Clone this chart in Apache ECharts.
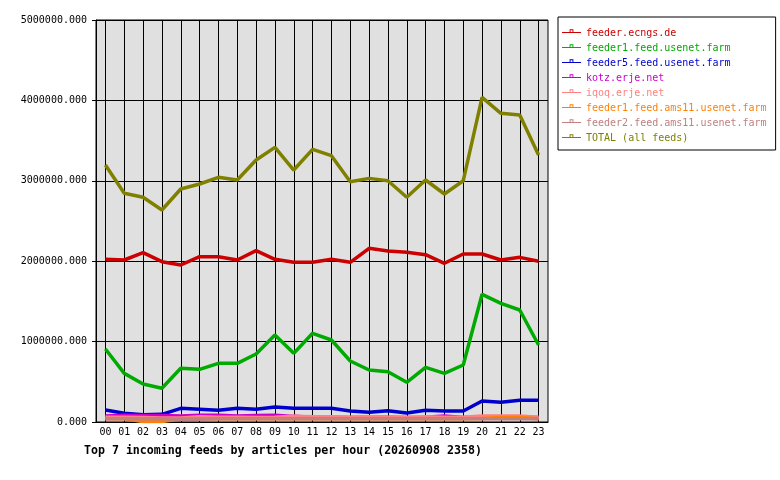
<!DOCTYPE html>
<html>
<head>
<meta charset="utf-8">
<script src="https://cdn.jsdelivr.net/npm/echarts@6/dist/echarts.min.js"></script>
<style>
  html, body { margin: 0; padding: 0; background: #fff; }
  #chart { width: 780px; height: 480px; }
</style>
</head>
<body>
<div id="chart"></div>
<script>
// hours of the day
var hours = ['00','01','02','03','04','05','06','07','08','09','10','11',
             '12','13','14','15','16','17','18','19','20','21','22','23'];

// articles per hour
var ecngs = [2023000, 2015000, 2106000, 1994000, 1953000, 2056000, 2056000, 2015000,
             2131000, 2023000, 1986000, 1986000, 2023000, 1986000, 2160000, 2127000,
             2110000, 2081000, 1974000, 2090000, 2090000, 2015000, 2048000, 1999000];
var feeder1 = [908000, 605000, 473000, 419000, 668000, 655000, 730000, 730000,
               846000, 1082000, 854000, 1103000, 1020000, 759000, 647000, 626000,
               494000, 680000, 605000, 709000, 1588000, 1476000, 1393000, 958000];
var feeder5 = [149000, 108000, 91000, 95000, 170000, 158000, 145000, 170000,
               158000, 187000, 170000, 170000, 170000, 137000, 120000, 141000,
               112000, 145000, 137000, 137000, 261000, 245000, 270000, 270000];
var kotz = [75000, 85000, 80000, 80000, 75000, 85000, 85000, 75000,
            80000, 85000, 70000, 60000, 60000, 55000, 60000, 60000,
            55000, 60000, 75000, 55000, 60000, 60000, 60000, 55000];
var iqoq = [60000, 60000, 55000, 50000, 50000, 65000, 60000, 60000,
            55000, 60000, 70000, 65000, 65000, 60000, 65000, 60000,
            55000, 65000, 60000, 60000, 75000, 75000, 75000, 60000];
var ams1 = [40000, 40000, 5000, 5000, 40000, 40000, 40000, 40000,
            40000, 40000, 40000, 40000, 40000, 40000, 40000, 40000,
            40000, 40000, 40000, 40000, 45000, 55000, 55000, 40000];
var ams2 = [40000, 40000, 40000, 40000, 35000, 35000, 40000, 40000,
            40000, 40000, 40000, 40000, 40000, 40000, 40000, 40000,
            40000, 40000, 40000, 40000, 40000, 40000, 40000, 40000];
var total = [3197000, 2845000, 2795000, 2637000, 2898000, 2960000, 3043000, 3010000,
             3259000, 3416000, 3134000, 3391000, 3312000, 2989000, 3030000, 3001000,
             2795000, 3010000, 2836000, 3001000, 4038000, 3839000, 3818000, 3321000];

var feeds = [
    { name: 'feeder.ecngs.de', color: '#cc0000', data: ecngs },
    { name: 'feeder1.feed.usenet.farm', color: '#00aa00', data: feeder1 },
    { name: 'feeder5.feed.usenet.farm', color: '#0000cc', data: feeder5 },
    { name: 'kotz.erje.net', color: '#cc00cc', data: kotz },
    { name: 'iqoq.erje.net', color: '#ff8080', data: iqoq },
    { name: 'feeder1.feed.ams11.usenet.farm', color: '#ff8000', data: ams1 },
    { name: 'feeder2.feed.ams11.usenet.farm', color: '#c08080', data: ams2 },
    { name: 'TOTAL (all feeds)', color: '#808000', data: total }
];

var mono = 'DejaVu Sans Mono';
// legend key: thin line with a small hollow square sitting on it
// (the tiny speck at the bottom only keeps the box 8px high so the line sits above centre)
var keyIcon = 'path://M0,3H20V4H0Z M8,0H12V4H8Z M9,1V3H11V1Z M0,7.95H0.05V8H0Z';

var chart = echarts.init(document.getElementById('chart'));
chart.setOption({
    animation: false,
    backgroundColor: '#ffffff',
    title: {
        text: 'Top 7 incoming feeds by articles per hour (20260908 2358)',
        left: 84,
        top: 445,
        padding: 0,
        textStyle: { fontFamily: mono, fontSize: 11.6, fontWeight: 'bold', color: '#000' }
    },
    legend: {
        orient: 'vertical',
        left: 558,
        top: 17,
        padding: [10, 9, 6, 4],
        itemWidth: 19,
        itemHeight: 8,
        itemGap: 3,
        borderColor: '#000',
        borderWidth: 1,
        backgroundColor: '#fff',
        data: feeds.map(function (f) {
            return { name: f.name, icon: keyIcon, itemStyle: { color: f.color }, textStyle: { color: f.color } };
        }),
        textStyle: { fontFamily: mono, fontSize: 10, lineHeight: 12 }
    },
    grid: {
        left: 96,
        right: 232,
        top: 20,
        bottom: 58,
        show: true,
        backgroundColor: '#e0e0e0',
        borderColor: '#000',
        borderWidth: 1
    },
    xAxis: {
        type: 'category',
        data: hours,
        boundaryGap: true,
        axisLine: { lineStyle: { color: '#000' } },
        axisTick: { alignWithLabel: true, length: 4, lineStyle: { color: '#000' } },
        axisLabel: { interval: 0, margin: 5, fontFamily: mono, fontSize: 10, color: '#000' },
        splitLine: { show: true, alignWithLabel: true, lineStyle: { color: '#000', width: 1 } }
    },
    yAxis: {
        type: 'value',
        min: 0,
        max: 5000000,
        interval: 1000000,
        axisLine: { show: true, lineStyle: { color: '#000' } },
        axisTick: { show: true, length: 4, lineStyle: { color: '#000' } },
        axisLabel: {
            margin: 9,
            fontFamily: mono,
            fontSize: 10,
            color: '#000',
            formatter: function (v) { return v.toFixed(3); }
        },
        splitLine: { show: true, lineStyle: { color: '#000', width: 1 } }
    },
    series: feeds.map(function (f) {
        return {
            name: f.name,
            type: 'line',
            data: f.data,
            showSymbol: false,
            color: f.color,
            lineStyle: { color: f.color, width: 3.5 },
            itemStyle: { color: f.color }
        };
    })
});
</script>
</body>
</html>
